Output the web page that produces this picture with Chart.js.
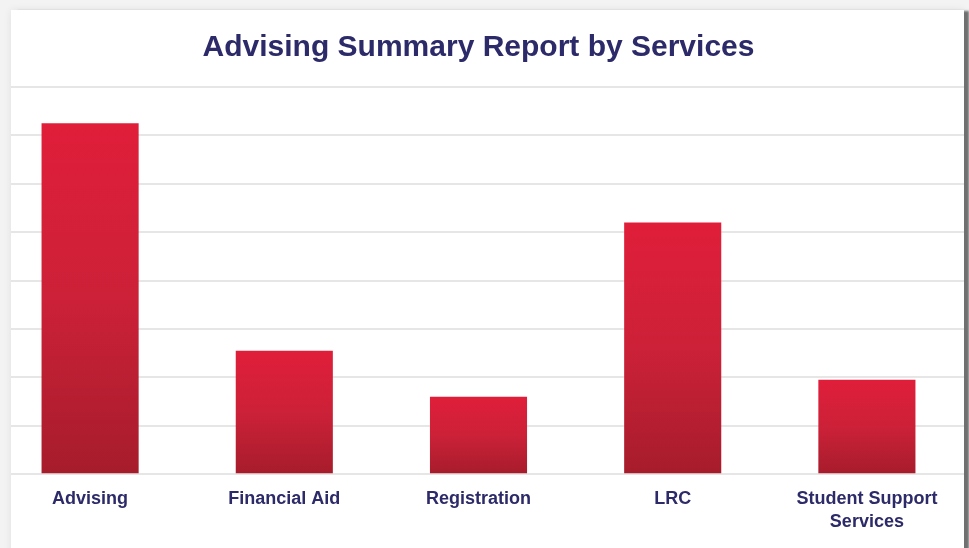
<!DOCTYPE html>
<html>
<head>
<meta charset="utf-8">
<script src="https://cdn.jsdelivr.net/npm/chart.js@4/dist/chart.umd.min.js"></script>
<style>
    html, body { margin: 0; padding: 0; }
    body { width: 969px; height: 548px; background: #f3f3f3; overflow: hidden; position: relative; }
    .card {
        position: absolute; left: 11px; top: 10px; width: 953px; height: 560px;
        background: #fff; overflow: hidden;
        box-shadow: 6px 0 2px -1px #707070, 0 0 8px rgba(0, 0, 0, 0.08);
    }
    .wrap { position: absolute; left: -18px; top: -10px; width: 971px; height: 548px; }
</style>
</head>
<body>
<div class="card">
    <div class="wrap"><canvas id="servicesChart"></canvas></div>
</div>
<script>
// данные с картинки (значения оценены по сетке)
const services = ['Advising', 'Financial Aid', 'Registration', 'LRC', ['Student Support', 'Services']];
const visits = [145, 51, 32, 104, 39];
const yMax = 160;
const yStep = 20;

const navy = '#2c2a68';

// градиент для каждого столбика отдельно: сверху ярче, снизу темнее
function barGradient(context) {
    const chart = context.chart;
    const area = chart.chartArea;
    if (!area || !chart.scales.y) return '#cf1f36';
    const value = context.parsed ? context.parsed.y : visits[context.dataIndex];
    const top = chart.scales.y.getPixelForValue(value);
    const bottom = chart.scales.y.getPixelForValue(0);
    const g = chart.ctx.createLinearGradient(0, top, 0, bottom);
    g.addColorStop(0, '#e01e3a');
    g.addColorStop(0.5, '#cc2138');
    g.addColorStop(1, '#a61c2b');
    return g;
}

const ctx = document.getElementById('servicesChart');

// @ts-ignore
new Chart(ctx, {
    type: 'bar',
    data: {
        labels: services,
        datasets: [{
            data: visits,
            backgroundColor: barGradient,
            borderWidth: 0,
            barPercentage: 1,
            categoryPercentage: 0.5
        }]
    },
    options: {
        responsive: true,
        maintainAspectRatio: false,
        animation: false,
        layout: { padding: { left: 0, right: 0, top: 0, bottom: 9 } },
        plugins: {
            legend: { display: false },
            tooltip: { enabled: false },
            title: {
                display: true,
                text: 'Advising Summary Report by Services',
                color: navy,
                font: { family: '"Liberation Sans", Arial, sans-serif', size: 30, weight: 'bold' },
                padding: { top: 30, bottom: 21 }
            }
        },
        scales: {
            x: {
                grid: { display: false },
                border: { display: false },
                ticks: {
                    color: navy,
                    padding: 5,
                    maxRotation: 0,
                    font: { family: '"Liberation Sans", Arial, sans-serif', size: 18, weight: 'bold', lineHeight: 1.3 }
                }
            },
            y: {
                min: 0,
                max: yMax,
                ticks: { display: false, stepSize: yStep },
                border: { display: false },
                grid: { color: '#e6e6e6', lineWidth: 2, drawTicks: false }
            }
        }
    }
});
</script>
</body>
</html>
